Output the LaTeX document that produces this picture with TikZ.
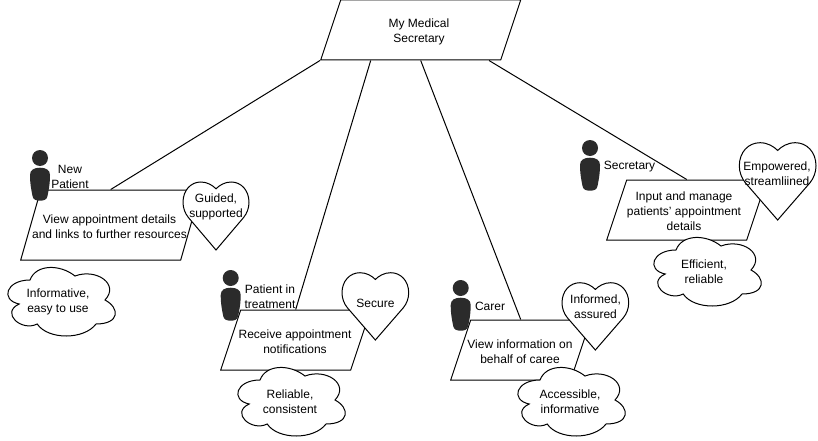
\documentclass[tikz,border=0pt]{standalone}
\usepackage{fontspec}
\setmainfont{Liberation Sans}
\usetikzlibrary{shapes.geometric,calc}
\definecolor{persondark}{HTML}{2B2B2B}
\newcommand{\cloudat}[3]{%
  \draw[outline,fill=white,shift={(#1,#2)},xscale=120,yscale=80]
   (.25,.25) .. controls (.05,.25) and (0,.5) .. (.16,.55)
   .. controls (0,.66) and (.18,.9) .. (.31,.8)
   .. controls (.4,1) and (.7,1) .. (.8,.8)
   .. controls (1,.8) and (1,.6) .. (.875,.5)
   .. controls (1,.3) and (.8,.1) .. (.625,.2)
   .. controls (.5,.05) and (.3,.05) .. (.25,.25) -- cycle;}
\newcommand{\heartat}[4]{%
  \draw[outline,fill=white,shift={(#1,#2)},xscale=#3,yscale=#4]
   (.5,1) -- (.08,.52) .. controls (.03,.46) and (0,.38) .. (0,.3)
   .. controls (0,.12) and (.12,0) .. (.27,0)
   .. controls (.37,0) and (.45,.05) .. (.5,.1)
   .. controls (.55,.05) and (.63,0) .. (.73,0)
   .. controls (.88,0) and (1,.12) .. (1,.3)
   .. controls (1,.38) and (.97,.46) .. (.92,.52) -- cycle;}
\newcommand{\personat}[2]{%
  \fill[persondark,shift={(#1,#2)}] (0,0) circle (8);
  \fill[persondark,shift={(#1,#2)}]
   (0,9.7) .. controls (-6,9.7) and (-10,12) .. (-10,17)
   .. controls (-10,26) and (-8.5,33) .. (-7.5,38)
   .. controls (-7,41.5) and (-4,42.7) .. (0,42.7)
   .. controls (4,42.7) and (7,41.5) .. (7.5,38)
   .. controls (8.5,33) and (10,26) .. (10,17)
   .. controls (10,12) and (6,9.7) .. (0,9.7) -- cycle;}
\tikzset{
  x=1pt,y=-1pt,
  outline/.style={draw=black,line width=1pt,line join=miter},
  txt/.style={inner sep=0pt,align=center,yshift=-1.5pt,font=\fontsize{12}{15}\selectfont,text=black},
  flat/.style={outline,fill=white,shape=trapezium,trapezium stretches body,inner sep=0pt,
    text height=60pt,text depth=0pt,
    trapezium left angle=71.57,trapezium right angle=108.43},
  flattall/.style={flat,text height=70pt,trapezium left angle=74.05,trapezium right angle=105.95},
  link/.style={draw=black,line width=1pt},
}
\begin{document}
\begin{tikzpicture}
\path[fill=white,use as bounding box] (0,0) rectangle (818,441);
% shapes
\node[flat,minimum width=200pt] (root) at (420.7,30) {};
\node[flattall,minimum width=180pt] (newbox) at (110.7,225) {};
\node[flat,minimum width=150pt] (treatbox) at (295.7,340) {};
\node[flat,minimum width=140pt] (carerbox) at (520.7,350) {};
\node[flat,minimum width=160pt] (secbox) at (686.7,210) {};
% connectors
\draw[link] (root.bottom left corner) -- (newbox.north);
\draw[link] ($(root.south)+(-50,0)$) -- (treatbox.north);
\draw[link] (root.south) -- (carerbox.north);
\draw[link] ($(root.south)+(68.3,0)$) -- (secbox.north);
% hearts
\heartat{183}{182}{66}{68}
\heartat{342}{272.7}{66.7}{67.3}
\heartat{562}{282.7}{66.7}{67.3}
\heartat{739.3}{142.7}{76.7}{77.3}
% clouds
\cloudat{0}{260}{newcloud}
\cloudat{230}{360}{treatcloud}
\cloudat{510}{360}{carercloud}
\cloudat{646}{230}{seccloud}
% people
\personat{40}{158}
\personat{230.7}{278}
\personat{460.7}{288}
\personat{590}{148}
% texts
\node[txt] (roottext) at (419,30) {My Medical\\Secretary};
\node[txt] (newtext) at (109.5,225) {View appointment details\\and links to further resources};
\node[txt] (treattext) at (295,340) {Receive appointment\\notifications};
\node[txt] (carertext) at (520,350) {View information on\\behalf of caree};
\node[txt] (sectext) at (684,210) {Input and manage\\patients' appointment\\details};
\node[txt] (newheart) at (216,205) {Guided,\\supported};
\node[txt] (treatheart) at (375.5,301.7) {Secure};
\node[txt] (carerheart) at (595.5,305) {Informed,\\assured};
\node[txt] (secheart) at (777,172) {Empowered,\\streamliined};
\node[txt] (newcloudtext) at (58,300) {Informative,\\easy to use};
\node[txt] (treatcloudtext) at (290,400) {Reliable,\\consistent};
\node[txt] (carercloudtext) at (570,400) {Accessible,\\informative};
\node[txt] (seccloudtext) at (704,270) {Efficient,\\reliable};
\node[txt] (newlabel) at (70,175) {New\\Patient};
\node[txt] (treatlabel) at (270,295) {Patient in\\treatment};
\node[txt] (carerlabel) at (490,305) {Carer};
\node[txt] (seclabel) at (629.5,165) {Secretary};
\end{tikzpicture}
\end{document}
